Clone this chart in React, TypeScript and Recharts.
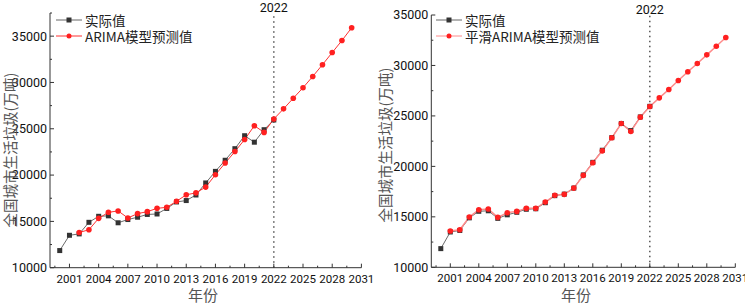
import React from 'react';
import { LineChart, Line, XAxis, YAxis, ReferenceLine } from 'recharts';

// years 2000 - 2030
const years = [2000, 2001, 2002, 2003, 2004, 2005, 2006, 2007, 2008, 2009, 2010, 2011, 2012, 2013, 2014, 2015,
    2016, 2017, 2018, 2019, 2020, 2021, 2022, 2023, 2024, 2025, 2026, 2027, 2028, 2029, 2030];

// 实际值 2000 - 2022
const actual = [11850, 13500, 13650, 14900, 15550, 15600, 14850, 15200, 15450, 15750, 15800, 16400, 17100,
    17250, 17850, 19150, 20400, 21600, 22850, 24250, 23550, 24900, 25950];

// ARIMA模型预测值 2002 - 2030
const arimaStart = 2002;
const arima = [13800, 14100, 15330, 15980, 16130, 15370, 15840, 16050, 16410, 16520, 17170, 17870, 18080,
    18700, 20040, 21300, 22540, 23840, 25330, 24610, 26060, 27150, 28300, 29430, 30650, 31920, 33230, 34530, 35910];

// 平滑ARIMA模型预测值 2001 - 2030
const smoothStart = 2001;
const smooth = [13590, 13720, 14980, 15700, 15770, 14950, 15410, 15540, 15840, 15840, 16460, 17130, 17230,
    17850, 19110, 20360, 21540, 22830, 24250, 23460, 24880, 25940, 26790, 27620, 28510, 29370, 30200, 31050,
    31910, 32770];

const xTickLabels = ['2001', '2004', '2007', '2010', '2013', '2016', '2019', '2022', '2025', '2028', '2031'];
const yTickLabelsLeft = ['10000', '15000', '20000', '25000', '30000', '35000'];
const yTickLabelsRight = ['10000', '15000', '20000', '25000', '30000', '35000'];

const FONT = "Roboto, 'Noto Sans CJK SC', sans-serif";
const CJK = "'Noto Sans CJK SC', sans-serif";
const AXIS = '#333';

const leftData = years.map((year, i) => ({
    year,
    actual: actual[i],
    model: year >= arimaStart ? arima[year - arimaStart] : undefined,
}));

const rightData = years.map((year, i) => ({
    year,
    actual: actual[i],
    model: year >= smoothStart ? smooth[year - smoothStart] : undefined,
}));

// major ticks plus a minor one half way between them
const xMajor = xTickLabels.map(Number);
const xTicks: number[] = [];
xMajor.forEach((v) => {
    xTicks.push(v - 1.5);
    xTicks.push(v);
});

const withMinor = (labels: string[], top: number) => {
    const out: number[] = [];
    labels.map(Number).forEach((v) => {
        out.push(v);
        if (v + 2500 <= top) out.push(v + 2500);
    });
    return out;
};

const XTick = (props: any) => {
    const { x, y, payload } = props;
    const v = payload.value;
    const major = Number.isInteger(v);
    const axisY = y - 6;
    return (
        <g>
            <line x1={x} x2={x} y1={axisY} y2={axisY - (major ? 4 : 2)} stroke={AXIS} />
            {major && (
                <text x={x} y={axisY + 15} textAnchor="middle" fontSize={11.5} fontFamily={FONT} fill="#111">
                    {v}
                </text>
            )}
        </g>
    );
};

const YTick = (props: any) => {
    const { x, y, payload } = props;
    const v = payload.value;
    const major = v % 5000 === 0;
    const axisX = x + 3;
    return (
        <g>
            <line x1={axisX} x2={axisX + (major ? 4 : 2)} y1={y} y2={y} stroke={AXIS} />
            {major && (
                <text x={x} y={y} dy="0.35em" textAnchor="end" fontSize={12.5} fontFamily={FONT} fill="#111">
                    {v}
                </text>
            )}
        </g>
    );
};

const squareDot = (props: any) => {
    const { cx, cy, index } = props;
    if (cx == null || cy == null) return <g key={`s-${index}`} />;
    return <rect key={`s-${index}`} x={cx - 2.5} y={cy - 2.5} width={5} height={5} fill="#333" />;
};

const circleDot = (props: any) => {
    const { cx, cy, index } = props;
    if (cx == null || cy == null) return <g key={`c-${index}`} />;
    return <circle key={`c-${index}`} cx={cx} cy={cy} r={2.8} fill="#ff2020" />;
};

const LegendBox = ({ left, top, label, lineColor }: { left: number; top: number; label: string; lineColor: string }) => (
    <div style={{ position: 'absolute', left, top, fontFamily: CJK, fontSize: 13.5, color: '#222' }}>
        <div style={{ display: 'flex', alignItems: 'center', height: 16 }}>
            <svg width={30} height={16}>
                <line x1={1} x2={27} y1={8} y2={8} stroke="#666" />
                <rect x={11.5} y={5.5} width={5} height={5} fill="#333" />
            </svg>
            <span style={{ lineHeight: '14px' }}>实际值</span>
        </div>
        <div style={{ display: 'flex', alignItems: 'center', height: 16 }}>
            <svg width={30} height={16}>
                <line x1={1} x2={27} y1={8} y2={8} stroke={lineColor} />
                <circle cx={14} cy={8} r={2.5} fill="#ff2020" />
            </svg>
            <span style={{ lineHeight: '14px' }}>{label}</span>
        </div>
    </div>
);

const Panel = ({ data, top, yTicks, m, lineColor, lineWidth }: any) => (
    <LineChart width={m.w} height={306} data={data}
        margin={{ top: m.top, right: m.right, left: 0, bottom: 0 }}>
        <XAxis dataKey="year" type="number" domain={[1999, 2031]} ticks={xTicks} interval={0}
            height={m.bottom} tickSize={0} tickMargin={6} tick={<XTick />} stroke={AXIS} allowDataOverflow />
        <YAxis type="number" domain={[10000, top]} ticks={yTicks} interval={0}
            width={m.left} tickSize={0} tickMargin={3} tick={<YTick />} stroke={AXIS} allowDataOverflow />
        <ReferenceLine x={2022} stroke="#555" strokeWidth={1.5} strokeDasharray="1.5 3.5"
            label={{ value: '2022', position: 'top', offset: 1, fill: '#111', fontSize: 12.5, fontFamily: FONT }} />
        <Line type="linear" dataKey="actual" stroke="#6a6a6a" strokeWidth={1} dot={squareDot}
            isAnimationActive={false} />
        <Line type="linear" dataKey="model" stroke={lineColor} strokeWidth={lineWidth} dot={circleDot}
            isAnimationActive={false} />
    </LineChart>
);

const App: React.FC = () => {
    return (
        <div style={{ position: 'absolute', left: 0, top: 0, width: 745, height: 306, overflow: 'hidden', background: '#fff' }}>
            <div style={{ position: 'absolute', left: 0, top: 0 }}>
                <Panel data={leftData} top={37500} yTicks={withMinor(yTickLabelsLeft, 37500)}
                    m={{ w: 380, top: 13, right: 18.6, left: 50, bottom: 38.3 }}
                    lineColor="#ff3030" lineWidth={1} />
            </div>
            <div style={{ position: 'absolute', left: 372, top: 0 }}>
                <Panel data={rightData} top={35000} yTicks={withMinor(yTickLabelsRight, 35000)}
                    m={{ w: 373, top: 15, right: 9.7, left: 59.3, bottom: 38.7 }}
                    lineColor="#ff8a8a" lineWidth={1.5} />
            </div>

            <LegendBox left={55} top={12} label="ARIMA模型预测值" lineColor="#ff3030" />
            <LegendBox left={435} top={12} label="平滑ARIMA模型预测值" lineColor="#ff8a8a" />

            <div style={{ position: 'absolute', left: 9, top: 150, transform: 'translate(-50%, -50%) rotate(-90deg)',
                whiteSpace: 'nowrap', fontFamily: CJK, fontSize: 14.5, lineHeight: '15px', color: '#555' }}>全国城市生活垃圾(万吨)</div>
            <div style={{ position: 'absolute', left: 383.5, top: 145, transform: 'translate(-50%, -50%) rotate(-90deg)',
                whiteSpace: 'nowrap', fontFamily: CJK, fontSize: 14.5, lineHeight: '15px', color: '#555' }}>全国城市生活垃圾(万吨)</div>

            <div style={{ position: 'absolute', left: 203, top: 294, transform: 'translate(-50%, -50%)',
                whiteSpace: 'nowrap', fontFamily: CJK, fontSize: 15, color: '#555' }}>年份</div>
            <div style={{ position: 'absolute', left: 576, top: 294, transform: 'translate(-50%, -50%)',
                whiteSpace: 'nowrap', fontFamily: CJK, fontSize: 15, color: '#555' }}>年份</div>
        </div>
    );
};

export default App;
